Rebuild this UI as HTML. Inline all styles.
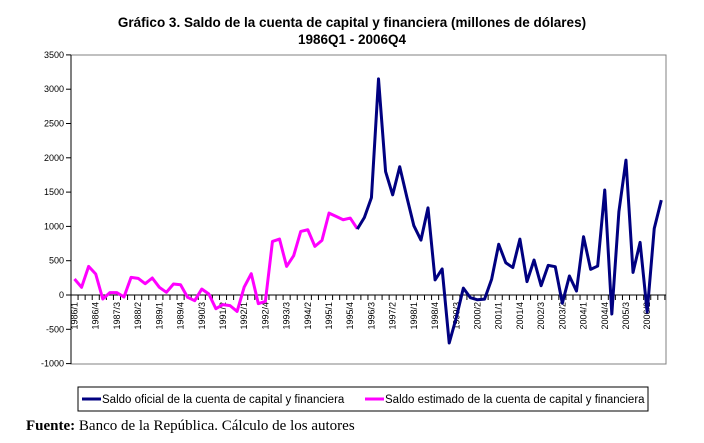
<!DOCTYPE html>
<html><head><meta charset="utf-8"><style>
body{margin:0;background:#fff;}
svg{display:block;font-family:"Liberation Sans",Arial,sans-serif;}
</style></head><body>
<svg width="704" height="443" viewBox="0 0 704 443" xmlns="http://www.w3.org/2000/svg">
<text x="352" y="27" text-anchor="middle" font-size="13.5" font-weight="bold">Gráfico 3. Saldo de la cuenta de capital y financiera (millones de dólares)</text>
<text x="352" y="44" text-anchor="middle" font-size="13.5" font-weight="bold">1986Q1 - 2006Q4</text>
<rect x="71" y="55" width="595" height="309" fill="none" stroke="#808080" stroke-width="1"/>
<line x1="71" y1="55" x2="666" y2="55" stroke="#808080"/>
<g id="yax" font-size="9" text-anchor="end"></g>
<g id="xax" font-size="9"></g>
<polyline id="pink" fill="none" stroke="#ff00ff" stroke-width="3" stroke-linejoin="round"/>
<polyline id="blue" fill="none" stroke="#000080" stroke-width="3" stroke-linejoin="round"/>
<rect x="78" y="387" width="570" height="24" fill="#fff" stroke="#000" stroke-width="1"/>
<line x1="82" y1="399" x2="101" y2="399" stroke="#000080" stroke-width="3"/>
<text x="102" y="403" font-size="11.5">Saldo oficial de la cuenta de capital y financiera</text>
<line x1="365" y1="399" x2="384" y2="399" stroke="#ff00ff" stroke-width="3"/>
<text x="385" y="403" font-size="11.5">Saldo estimado de la cuenta de capital y financiera</text>
<text x="26" y="430" font-size="15" font-family="Liberation Serif,serif"><tspan font-weight="bold">Fuente:</tspan> Banco de la República. Cálculo de los autores</text>
</svg>
<script>
var ns="http://www.w3.org/2000/svg";
function Y(v){return 295-v*0.0686;}
function X(i){return 74.5+i*7.07;}
function el(t,a,p,txt){var e=document.createElementNS(ns,t);for(var k in a)e.setAttribute(k,a[k]);if(txt!=null)e.textContent=txt;p.appendChild(e);return e;}
var ya=document.getElementById('yax');
for(var v=-1000;v<=3500;v+=500){el('line',{x1:66,x2:71,y1:Y(v),y2:Y(v),stroke:'#000'},ya);el('text',{x:64,y:Y(v)+3},ya,v);}
el('line',{x1:71,x2:71,y1:55,y2:364,stroke:'#000'},ya);
var xa=document.getElementById('xax');
el('line',{x1:71,x2:666,y1:295,y2:295,stroke:'#000'},xa);
for(var i=0;i<=84;i++){var x=71+i*7.07;el('line',{x1:x,x2:x,y1:295,y2:300,stroke:'#000'},xa);}
for(var i=0;i<84;i+=3){var yr=1986+Math.floor(i/4),q=i%4+1;var x=X(i)+3;
el('text',{x:x,y:302,transform:'rotate(-90 '+x+' 302)','text-anchor':'end'},xa,yr+'/'+q);}
var pink=[233,112,417,306,-58,34,34,-29,257,243,165,248,112,39,160,150,-34,-83,87,15,-200,-140,-155,-240,116,311,-126,-92,781,815,417,573,927,951,709,796,1194,1146,1097,1121,966];
var blue=[960,1130,1420,3150,1800,1460,1870,1430,1010,800,1270,220,380,-700,-330,100,-40,-70,-60,230,740,470,400,815,195,510,136,432,413,-120,277,58,850,374,422,1530,-277,1214,1966,330,767,-250,970,1383];
document.getElementById('pink').setAttribute('points',pink.map(function(v,i){return X(i)+','+Y(v)}).join(' '));
document.getElementById('blue').setAttribute('points',blue.map(function(v,i){return X(i+40)+','+Y(v)}).join(' '));
</script>
</body></html>
